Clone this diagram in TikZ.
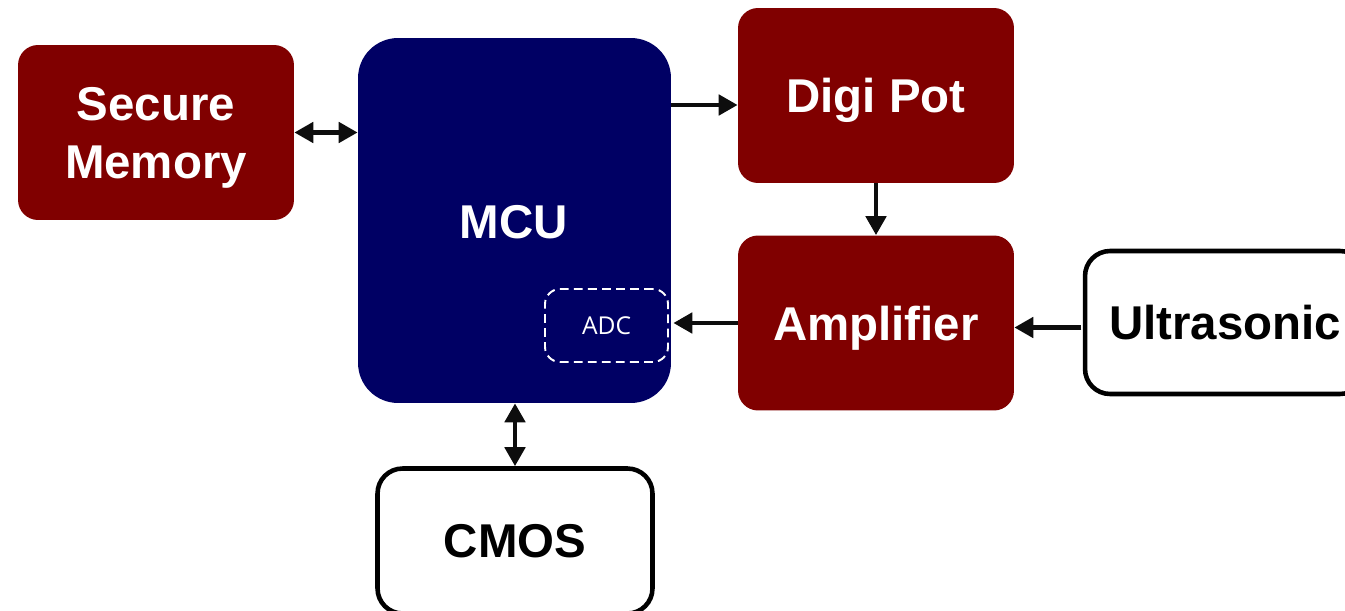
\documentclass[tikz,border=0pt]{standalone}
\usepackage{fontspec}
\setmainfont{Liberation Sans}
\newfontfamily\adcfont{Open Sans}
\usetikzlibrary{arrows.meta,calc}

\definecolor{boxred}{RGB}{128,0,0}
\definecolor{mcublue}{RGB}{0,0,100}

\begin{document}
\begin{tikzpicture}[x=0.02cm,y=-0.02cm,
    redbox/.style={fill=boxred, text=white, rounded corners=0.4cm,
        minimum width=5.52cm, minimum height=3.5cm, align=center, text depth=0pt,
        font=\fontsize{27}{33}\selectfont\bfseries},
    whitebox/.style={draw=black, line width=2.6pt, fill=white, text=black,
        rounded corners=0.5cm, align=center, text depth=0pt,
        font=\fontsize{27}{33}\selectfont\bfseries},
    link/.style={line width=2.8pt, black!95,
        arrows={-Triangle[length=3.8mm,width=4mm]}},
    both/.style={link, arrows={Triangle[length=3.8mm,width=4mm]-Triangle[length=3.8mm,width=4mm]}}]

    \clip (0,0) rectangle (1345,611);
    \fill[white] (0,0) rectangle (1345,611);

    % Blocks
    \node[redbox] (mem) at (156,132.5) {Secure\\Memory};
    \node[fill=mcublue, rounded corners=0.8cm,
        minimum width=6.26cm, minimum height=7.3cm] (mcu) at (514.5,220.5) {};
    \node[text=white, text depth=0pt, font=\fontsize{27}{33}\selectfont\bfseries] (mcutxt) at (514,222) {MCU};
    \node[draw=white, dash pattern=on 5pt off 3pt, line width=1.1pt, rounded corners=0.3cm, text=white,
        minimum width=2.46cm, minimum height=1.46cm,
        font=\adcfont\fontsize{14}{16}\selectfont] (adc) at (606.5,325.5) {ADC};
    \node[redbox] (pot) at (876,95.5) {Digi Pot};
    \node[redbox] (amp) at (876,323) {Amplifier};
    \node[whitebox, minimum width=5.6cm, minimum height=2.86cm] (ultra) at (1225,322.5) {Ultrasonic};
    \node[whitebox, minimum width=5.5cm, minimum height=2.9cm] (cmos) at (515,541) {CMOS};

    \coordinate (potin) at ($(pot.west)+(0,9.5)$);
    \coordinate (ultraout) at ($(ultra.west)+(-1.3,5)$);

    % Connections
    \draw[both] (mem.east) -- (mem.east -| mcu.west);
    \draw[link] (potin -| mcu.east) -- (potin);
    \draw[link] (pot.south) -- (amp.north);
    \draw[link] (amp.west) -- ($(amp.west -| mcu.east)+(2,0)$);
    \draw[link] (ultraout) -- (ultraout -| amp.east);
    \draw[both] (mcu.south -| cmos.north) -- (cmos.north);

\end{tikzpicture}
\end{document}
